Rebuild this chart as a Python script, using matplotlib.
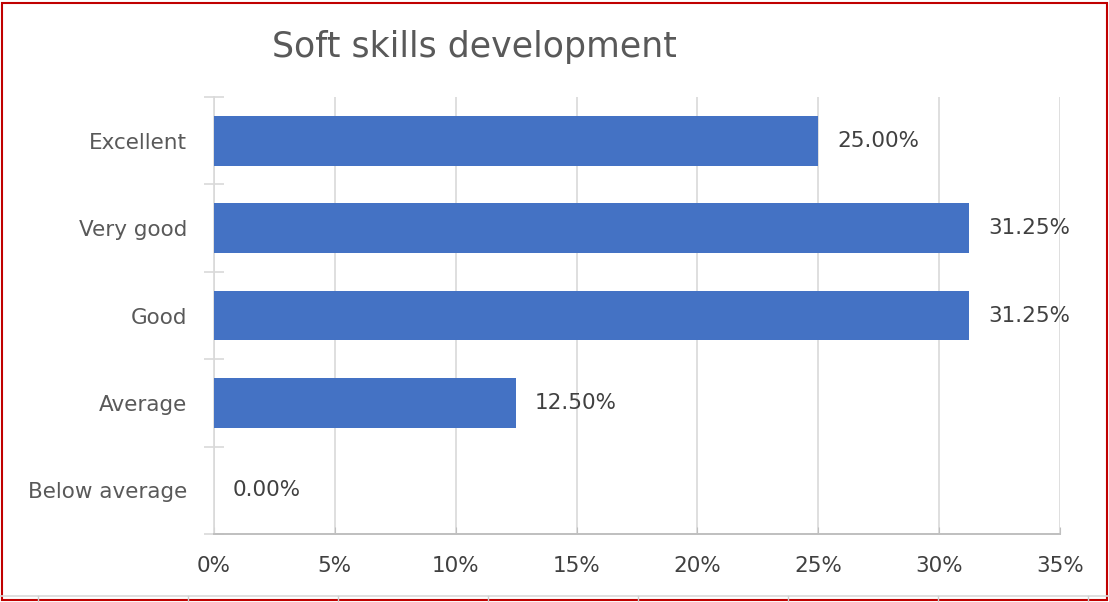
import matplotlib
matplotlib.use("Agg")
import matplotlib.pyplot as plt
from matplotlib.patches import Rectangle
from matplotlib.lines import Line2D
from matplotlib.ticker import FuncFormatter

categories = ["Excellent", "Very good", "Good", "Average", "Below average"]
values = [25.00, 31.25, 31.25, 12.50, 0.00]
x_ticks = [0, 5, 10, 15, 20, 25, 30, 35]
title = "Soft skills development"

plt.rcParams['font.family'] = ['DejaVu Sans']

fig = plt.figure(figsize=(11.09, 6.02), dpi=100)
ax = fig.add_axes([214/1109, 1-534/602, (1060-214)/1109, (534-97)/602])

ypos = list(range(len(categories)))
ax.barh(ypos, values, height=0.57, color='#4472C4', zorder=3)
ax.set_ylim(len(categories)-0.5, -0.5)
ax.set_xlim(0, 35)
ax.set_xticks(x_ticks)
ax.xaxis.set_major_formatter(FuncFormatter(lambda v, p: f"{v:.0f}%"))
ax.set_yticks(ypos)
ax.set_yticklabels(categories)
ax.set_yticks([i - 0.5 for i in range(len(categories)+1)], minor=True)
ax.tick_params(axis='y', which='major', length=0, pad=19.5, labelsize=15.5, labelcolor='#595959')
ax.tick_params(axis='y', which='minor', length=14, direction='inout', color='#d9d9d9', width=1.2)
ax.tick_params(axis='x', length=5, direction='in', color='#bfbfbf', labelsize=15.5, labelcolor='#404040', pad=16)

ax.grid(axis='x', color='#d9d9d9', linewidth=1.2, zorder=0)
for s in ['top', 'right']:
    ax.spines[s].set_visible(False)
ax.spines['left'].set_color('#d9d9d9')
ax.spines['left'].set_linewidth(1.2)
ax.spines['bottom'].set_color('#bfbfbf')
ax.spines['bottom'].set_linewidth(1.4)

for y, v in zip(ypos, values):
    ax.annotate(f"{v:.2f}%", (v, y), xytext=(13.5, 0), textcoords='offset points',
                va='center', ha='left', fontsize=15.5, color='#404040')

fig.text(474/1109, 1-47/602, title, ha='center', va='center', fontsize=25, color='#595959')

# spreadsheet cell lines below the chart frame
fig.add_artist(Line2D([0, 1], [1-596/602, 1-596/602], transform=fig.transFigure,
                      color='#d9d9d9', linewidth=1.2))
for xc in [38, 188, 338, 488, 638, 788, 938, 1088]:
    fig.add_artist(Line2D([xc/1109, xc/1109], [0, 1-596/602], transform=fig.transFigure,
                          color='#d0d0d0', linewidth=1))

fig.patches.append(Rectangle((2/1109, 2/602), 1105/1109, 597/602, transform=fig.transFigure,
                             fill=False, edgecolor='#c00000', linewidth=1.5))

fig.savefig("out.png", dpi=100)
